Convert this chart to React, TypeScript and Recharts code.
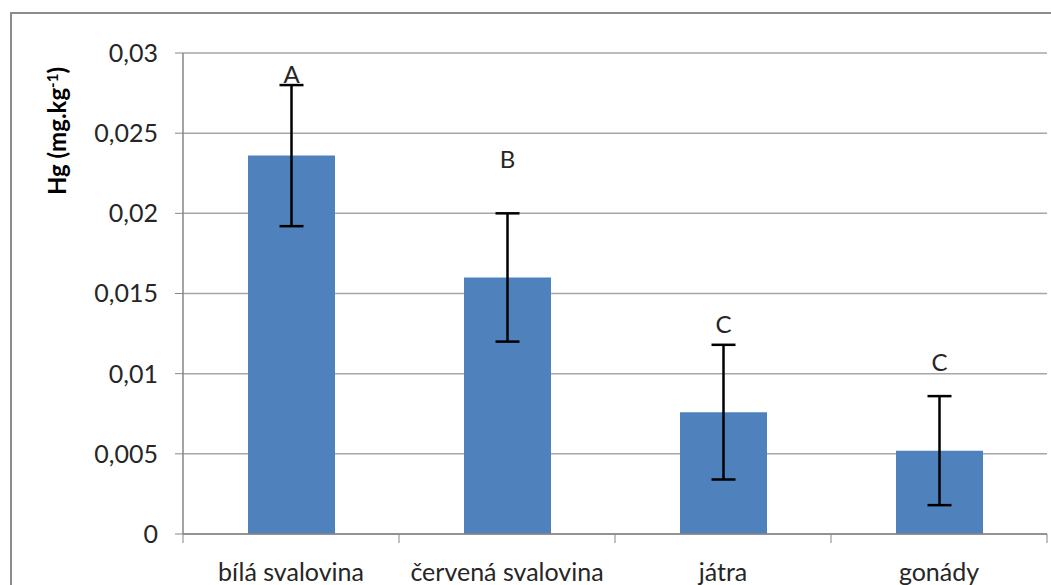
import { BarChart, Bar, XAxis, YAxis, CartesianGrid, ErrorBar, LabelList } from 'recharts';

const categories = ['bílá svalovina', 'červená svalovina', 'játra', 'gonády'];
const hgValues = [0.0236, 0.016, 0.0076, 0.0052];
const hgErrors = [0.0044, 0.004, 0.0042, 0.0034];
const letters = ['A', 'B', 'C', 'C'];
const letterPos = [0.02875, 0.0234, 0.0131, 0.01075]; // kde sedí písmena (v jednotkách osy Y)
const yTicks = [0, 0.005, 0.01, 0.015, 0.02, 0.025, 0.03];

const data = categories.map((name, i) => ({
  name,
  value: hgValues[i],
  err: hgErrors[i],
  letter: letters[i],
}));

const FONT = 'Lato, "Open Sans", sans-serif';
const W = 1051;
const H = 585;
const MARGIN = { top: 53, right: 4, bottom: 11, left: 83 };
const Y_AXIS_W = 100;
const HALF_BAND = (W - MARGIN.left - MARGIN.right - Y_AXIS_W) / categories.length / 2;

const fmt = (v: number) => String(v).replace('.', ',');

const XTick = (props: any) => {
  const { x, y, payload, index } = props;
  const axisY = y - 10;
  return (
    <g>
      <line x1={x - HALF_BAND} y1={axisY} x2={x - HALF_BAND} y2={axisY + 9} stroke="#868686" />
      {index === categories.length - 1 && (
        <line x1={x + HALF_BAND} y1={axisY} x2={x + HALF_BAND} y2={axisY + 9} stroke="#868686" />
      )}
      <text x={x} y={axisY + 37} textAnchor="middle" dominantBaseline="central" fill="#262626" fontSize={25} fontFamily={FONT}>
        {payload.value}
      </text>
    </g>
  );
};

const Letter = (props: any) => {
  const { x, y, width, height, value, index } = props;
  const base = y + height;
  const pxPerUnit = height / hgValues[index];
  return (
    <text x={x + width / 2} y={base - letterPos[index] * pxPerUnit} textAnchor="middle" dominantBaseline="central" fill="#262626" fontSize={24} fontFamily={FONT}>
      {value}
    </text>
  );
};

const YTitle = () => (
  <text transform="translate(66,131) rotate(-90)" textAnchor="middle" fill="#000" fontSize={24} fontWeight="bold" fontFamily={FONT}>
    Hg (mg.kg<tspan dy={-8} fontSize={15}>-1</tspan><tspan dy={8}>)</tspan>
  </text>
);

export default function App() {
  return (
    <div style={{ position: 'absolute', left: 0, top: 0, width: W, height: H, background: '#fff', overflow: 'hidden' }}>
      <div style={{ position: 'absolute', left: 10, top: 12, width: W + 40, height: H + 40, border: '2px solid #8c8c8c', boxSizing: 'border-box' }} />
      <div style={{ position: 'absolute', left: 0, top: 0 }}>
        <BarChart width={W} height={H} data={data} margin={MARGIN}>
          <CartesianGrid vertical={false} stroke="#a6a6a6" strokeWidth={1.5} />
          <XAxis
            dataKey="name"
            tickLine={false}
            tickSize={8}
            tickMargin={2}
            height={40}
            tick={<XTick />}
            axisLine={{ stroke: '#868686', strokeWidth: 1.5 }}
            interval={0}
          />
          <YAxis
            width={Y_AXIS_W}
            domain={[0, 0.03]}
            ticks={yTicks}
            tickFormatter={fmt}
            tickSize={8}
            tickMargin={17}
            tick={{ fill: '#262626', fontSize: 25, fontFamily: FONT }}
            tickLine={{ stroke: '#868686' }}
            axisLine={{ stroke: '#868686', strokeWidth: 1.5 }}
            label={<YTitle />}
          />
          <Bar dataKey="value" fill="#4F81BD" barSize={87} isAnimationActive={false}>
            <ErrorBar dataKey="err" width={12} stroke="#000" strokeWidth={2.5} />
            <LabelList dataKey="letter" content={<Letter />} />
          </Bar>
        </BarChart>
      </div>
    </div>
  );
}
